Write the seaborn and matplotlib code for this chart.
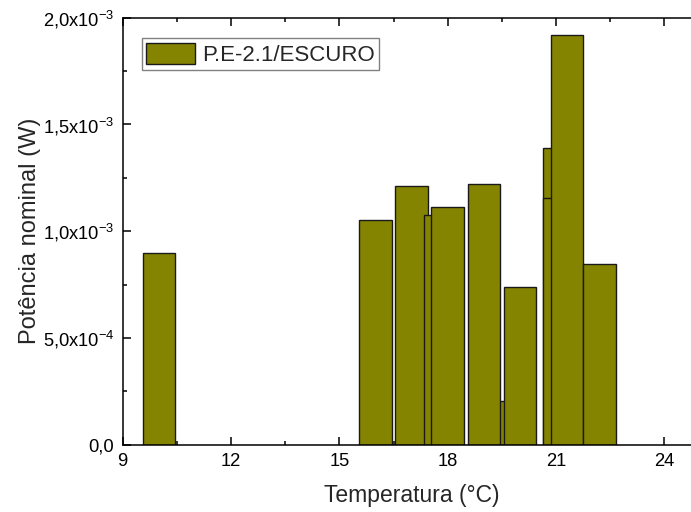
import matplotlib
matplotlib.use("Agg")
import matplotlib.pyplot as plt
import seaborn as sns
from matplotlib.ticker import FixedLocator

# ---- data (drawing order kept) ----
temps = [10.0, 16.0, 17.0, 17.8, 18.0, 19.5, 19.0, 20.0, 21.1, 21.1, 21.3, 22.2]
powers = [0.897e-3, 1.051e-3, 1.213e-3, 1.075e-3, 1.113e-3, 0.205e-3,
          1.221e-3, 0.739e-3, 1.388e-3, 1.154e-3, 1.920e-3, 0.848e-3]
series_label = "P.E-2.1/ESCURO"

x_ticks = [9, 12, 15, 18, 21, 24]
x_tick_labels = ["9", "12", "15", "18", "21", "24"]
y_ticks = [0.0, 0.5e-3, 1.0e-3, 1.5e-3, 2.0e-3]
y_tick_labels = ["0,0", r"5,0x10$^{-4}$", r"1,0x10$^{-3}$",
                 r"1,5x10$^{-3}$", r"2,0x10$^{-3}$"]

sns.set_style("ticks")
plt.rcParams["font.family"] = ["Liberation Sans", "DejaVu Sans"]
plt.rcParams["mathtext.fontset"] = "custom"
plt.rcParams["mathtext.rm"] = "Liberation Sans"
plt.rcParams["mathtext.it"] = "Liberation Sans:italic"
plt.rcParams["mathtext.bf"] = "Liberation Sans:bold"

bar_color = "#848400"

fig = plt.figure(figsize=(6.91, 5.12), dpi=100)
ax = fig.add_axes([122.7 / 691, 67.3 / 512, 577.8 / 691, 427 / 512])

for i, (t, p) in enumerate(zip(temps, powers)):
    sns.barplot(x=[t], y=[p], native_scale=True, orient="x", width=0.9,
                color=bar_color, saturation=1, edgecolor="#1a1a1a",
                linewidth=1.0, errorbar=None, ax=ax,
                label=series_label if i == 0 else None)

ax.set_xlim(9, 25)
ax.set_ylim(0, 2.0e-3)
ax.xaxis.set_major_locator(FixedLocator(x_ticks))
ax.set_xticklabels(x_tick_labels)
ax.xaxis.set_minor_locator(FixedLocator([10.5, 13.5, 16.5, 19.5, 22.5]))
ax.yaxis.set_major_locator(FixedLocator(y_ticks))
ax.set_yticklabels(y_tick_labels)
ax.yaxis.set_minor_locator(FixedLocator([0.25e-3, 0.75e-3, 1.25e-3, 1.75e-3]))

ax.tick_params(which="both", direction="in", top=True, right=True,
               color="black", width=1.1, labelsize=13.2, labelcolor="black")
ax.tick_params(which="major", length=6, pad=6)
ax.tick_params(which="minor", length=3)
for s in ax.spines.values():
    s.set_linewidth(1.1)
    s.set_color("black")

ax.set_xlabel("Temperatura (°C)", fontsize=16.5, labelpad=10)
ax.set_ylabel("Potência nominal (W)", fontsize=17, labelpad=1)

leg = ax.legend(loc="upper left", bbox_to_anchor=(0.0329, 0.9518),
                borderaxespad=0, fontsize=16, frameon=True, fancybox=False,
                edgecolor="#808080", framealpha=1, borderpad=0.2,
                handlelength=2.2, handleheight=1.1, handletextpad=0.3)
leg.get_frame().set_linewidth(1.0)

fig.savefig("out.png", dpi=100)
